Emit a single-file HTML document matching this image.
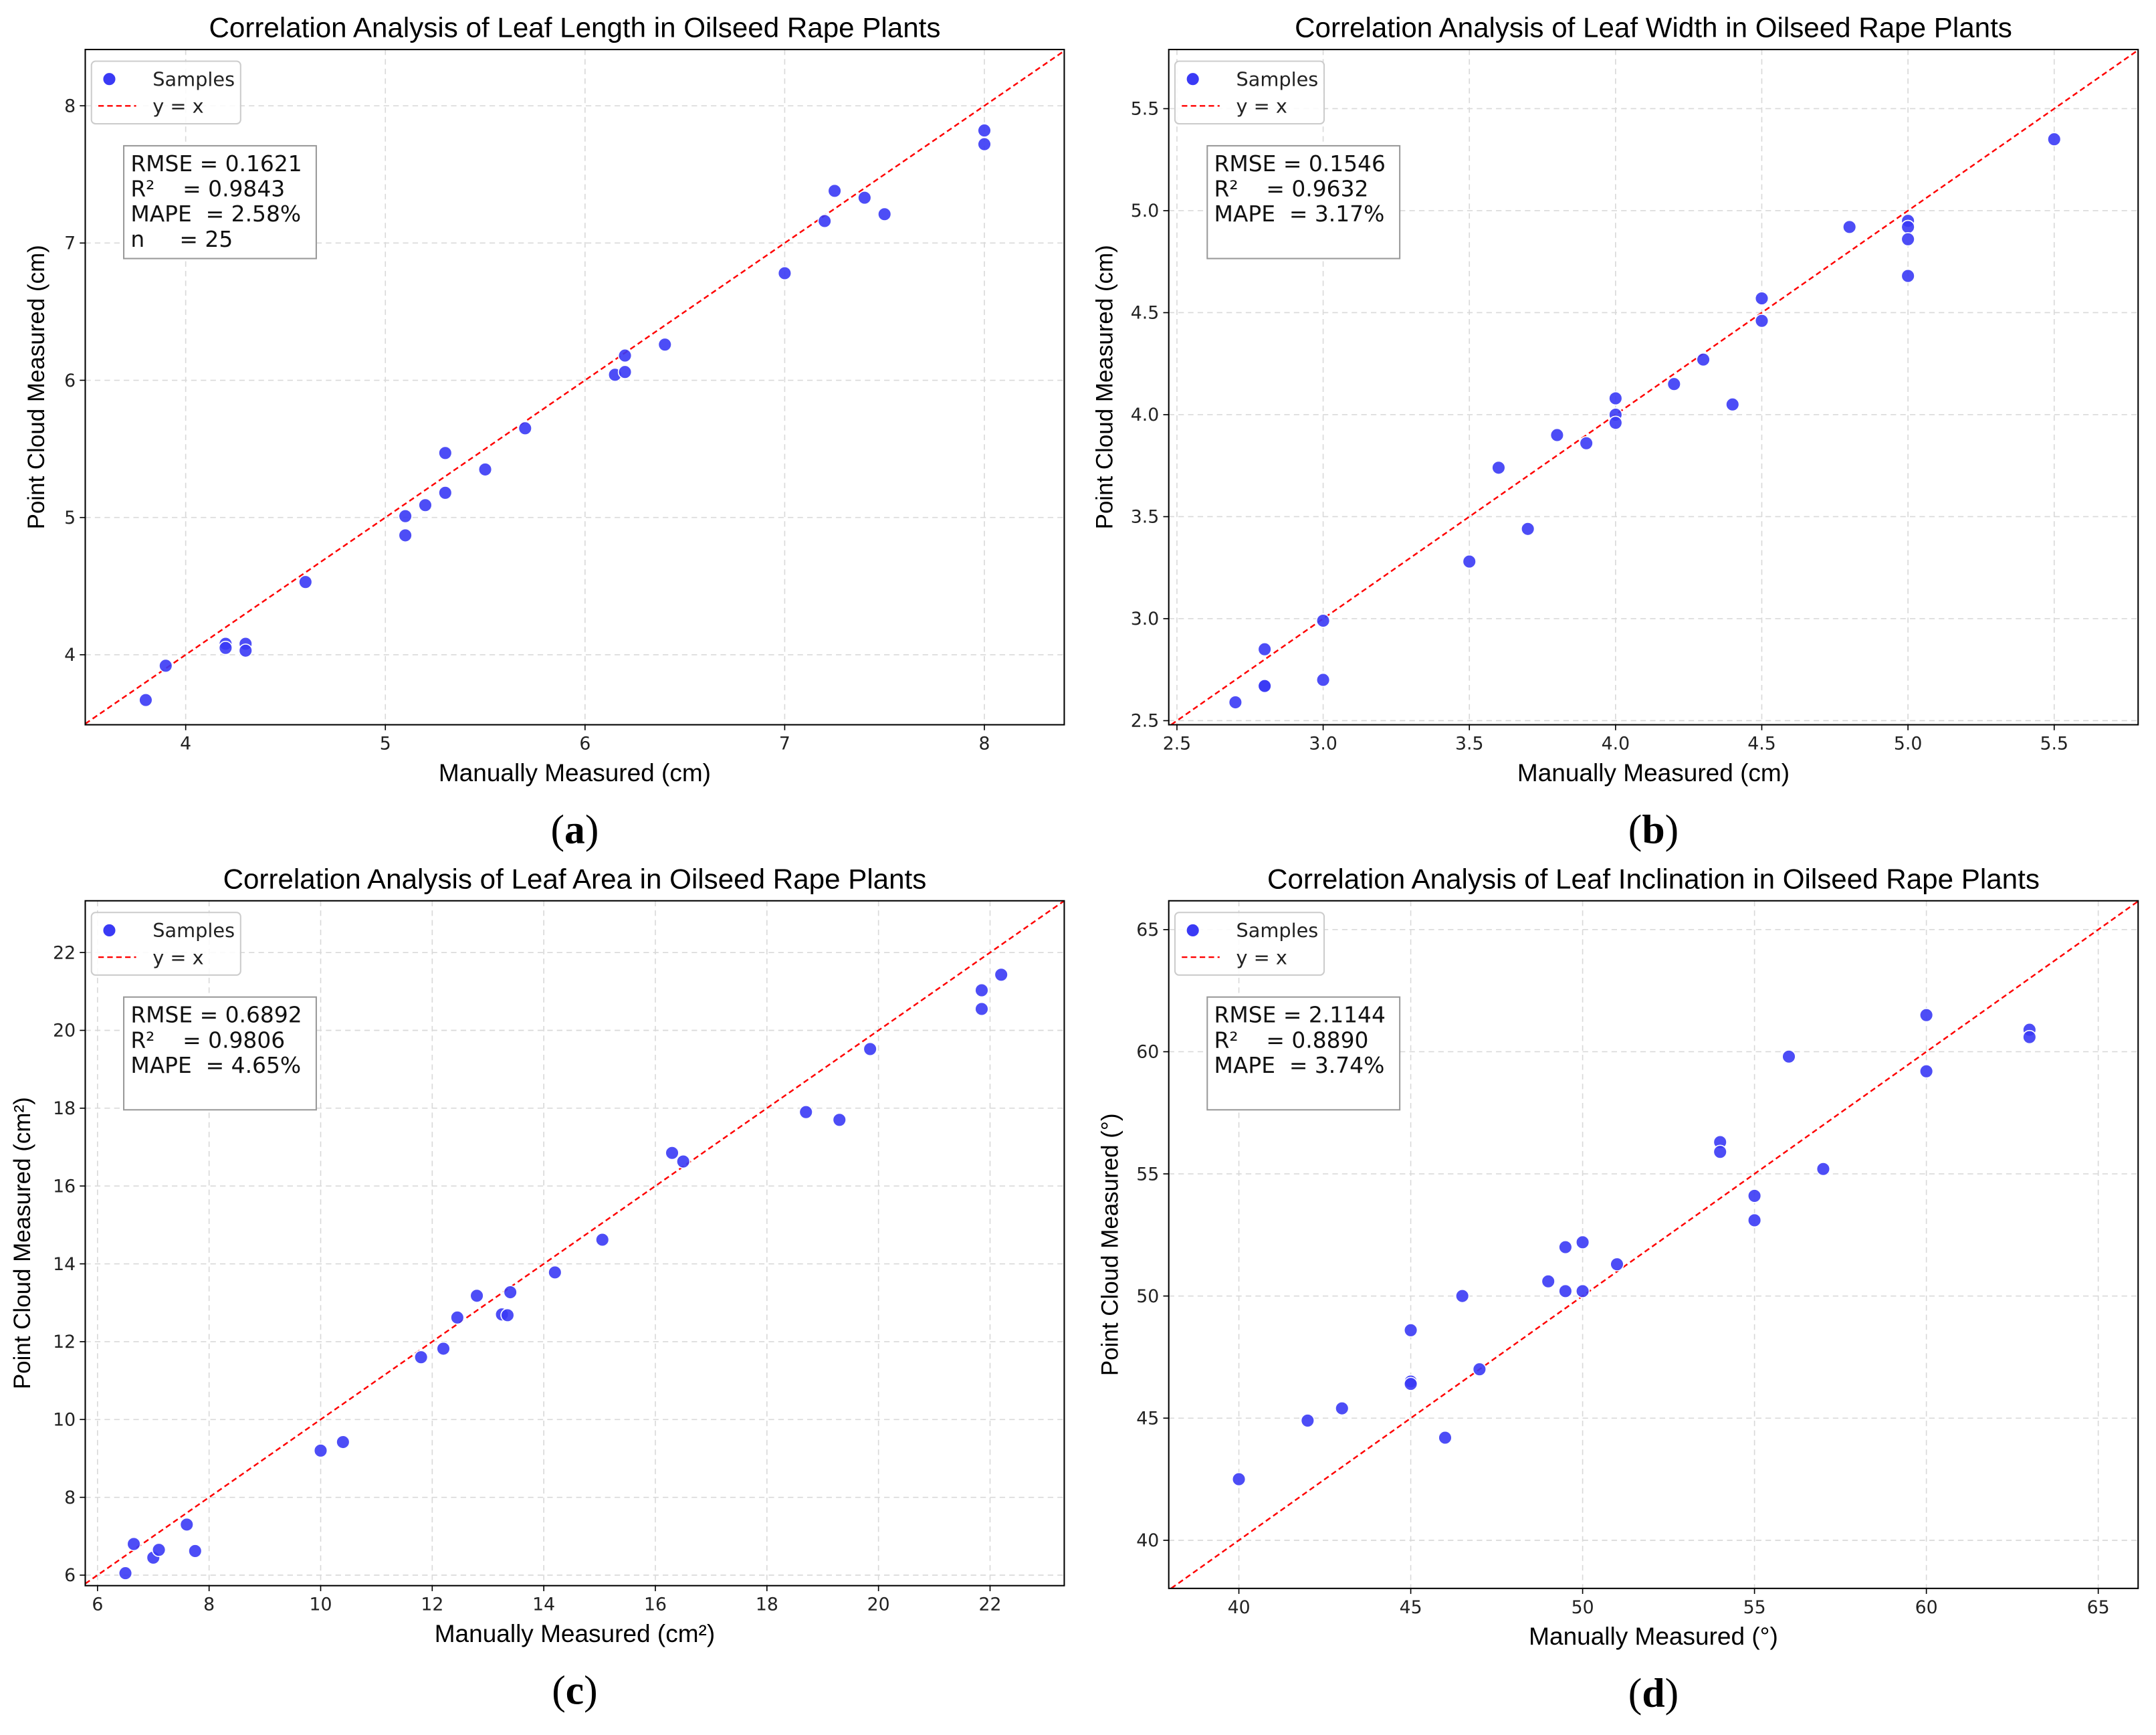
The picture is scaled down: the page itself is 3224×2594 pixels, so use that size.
<!DOCTYPE html>
<html><head><meta charset="utf-8"><style>
html,body{margin:0;padding:0;background:#fff;}
svg{display:block;font-family:"Liberation Sans",sans-serif;}
</style></head><body>
<svg id="fig" width="3224" height="2594" viewBox="0 0 1568 1261.6" xmlns="http://www.w3.org/2000/svg"></svg>
<script>
// Panel (a) leaf length
const lenX=[3.8,3.9,4.2,4.2,4.3,4.3,4.6,5.1,5.1,5.2,5.3,5.3,5.5,5.7,6.15,6.2,6.2,6.4,7.0,7.2,7.25,7.4,7.5,8.0,8.0];
const lenY=[3.67,3.92,4.08,4.05,4.08,4.03,4.53,5.01,4.87,5.09,5.47,5.18,5.35,5.65,6.04,6.06,6.18,6.26,6.78,7.16,7.38,7.33,7.21,7.82,7.72];
const lenXTicks=[4,5,6,7,8];const lenYTicks=[4,5,6,7,8];
// Panel (b) leaf width
const widX=[2.7,2.8,2.8,2.8,3.0,3.0,3.5,3.6,3.7,3.8,3.9,4.0,4.0,4.0,4.2,4.3,4.4,4.5,4.5,4.8,5.0,5.0,5.0,5.0,5.5];
const widY=[2.59,2.85,2.67,2.67,2.99,2.70,3.28,3.74,3.44,3.90,3.86,4.08,4.00,3.96,4.15,4.27,4.05,4.57,4.46,4.92,4.95,4.92,4.86,4.68,5.35];
const widXTicks=[2.5,3.0,3.5,4.0,4.5,5.0,5.5];const widYTicks=[2.5,3.0,3.5,4.0,4.5,5.0,5.5];
// Panel (c) leaf area
const areaX=[6.5,6.65,7.0,7.1,7.6,7.75,10.0,10.4,11.8,12.2,12.45,12.8,13.25,13.35,13.4,14.2,15.05,16.3,16.5,18.7,19.3,19.85,21.85,21.85,22.2];
const areaY=[6.05,6.8,6.45,6.65,7.3,6.62,9.2,9.42,11.6,11.82,12.62,13.18,12.7,12.68,13.27,13.78,14.62,16.85,16.63,17.9,17.7,19.52,21.03,20.55,21.43];
const areaXTicks=[6,8,10,12,14,16,18,20,22];const areaYTicks=[6,8,10,12,14,16,18,20,22];
// Panel (d) leaf inclination
const incX=[40,42,43,45,45,45,46,46.5,47,49,49.5,49.5,50,50,51,54,54,55,55,56,57,60,60,63,63];
const incY=[42.5,44.9,45.4,48.6,46.5,46.4,44.2,50.0,47.0,50.6,52.0,50.2,52.2,50.2,51.3,56.3,55.9,54.1,53.1,59.8,55.2,61.5,59.2,60.9,60.6];
const incXTicks=[40,45,50,55,60,65];const incYTicks=[40,45,50,55,60,65];

const NS="http://www.w3.org/2000/svg";
const svg=document.getElementById('fig');
function mk(tag,attrs,parent,text){const e=document.createElementNS(NS,tag);for(const k in attrs)e.setAttribute(k,attrs[k]);if(text!==undefined)e.textContent=text;(parent||svg).appendChild(e);return e;}
const TICKF='"DejaVu Sans",sans-serif';

function panel(o){
  const g=mk('g',{});
  
  
  const L=o.box[0],T=o.box[1],R=o.box[2],B=o.box[3];
  const sx=v=>L+(v-o.xr[0])/(o.xr[1]-o.xr[0])*(R-L);
  const sy=v=>B-(v-o.yr[0])/(o.yr[1]-o.yr[0])*(B-T);
  const cp='clip-'+o.name;
  const cdef=mk('clipPath',{id:cp},g);mk('rect',{x:L,y:T,width:R-L,height:B-T},cdef);
  o.xt.forEach(t=>{const x=sx(t);
    const gl=mk('line',{x1:x,x2:x,y1:T,y2:B,stroke:'#d9d9d9','stroke-width':0.8,'stroke-dasharray':'4 3'},g);
    
    
    mk('line',{x1:x,x2:x,y1:B,y2:B+4,stroke:'#000','stroke-width':0.8},g);
    const tl=mk('text',{x:x,y:B+18,'font-size':13,'text-anchor':'middle',fill:'#222','font-family':TICKF},g,o.fmt(t));
    
    });
  o.yt.forEach(t=>{const y=sy(t);
    const gl=mk('line',{x1:L,x2:R,y1:y,y2:y,stroke:'#d9d9d9','stroke-width':0.8,'stroke-dasharray':'4 3'},g);
    
    
    mk('line',{x1:L-4,x2:L,y1:y,y2:y,stroke:'#000','stroke-width':0.8},g);
    const tl=mk('text',{x:L-7,y:y+4.5,'font-size':13,'text-anchor':'end',fill:'#222','font-family':TICKF},g,o.fmt(t));
    
    });
  const lo=Math.max(o.xr[0],o.yr[0]),hi=Math.min(o.xr[1],o.yr[1]);
  const ref=mk('line',{x1:sx(lo),y1:sy(lo),x2:sx(hi),y2:sy(hi),stroke:'#ff0000','stroke-width':1.2,'stroke-dasharray':'4 2.5','clip-path':'url(#'+cp+')'},g);
  
  
  o.xs.forEach((v,i)=>{
    const c=mk('circle',{cx:sx(v),cy:sy(o.ys[i]),r:4.8,fill:'#3a3af5','fill-opacity':0.9,stroke:'#fff','stroke-width':0.8},g);
    
    });
  const fr=mk('rect',{x:L,y:T,width:R-L,height:B-T,fill:'none',stroke:'#000','stroke-width':1},g);
  
  
  const ti=mk('text',{x:(L+R)/2,y:T-9,'font-size':20.5,'text-anchor':'middle',fill:'#000'},g,o.title);
  
  
  const xl=mk('text',{x:(L+R)/2,y:B+41,'font-size':18,'text-anchor':'middle',fill:'#000'},g,o.xlab);
  
  
  const yx=L-o.ylOff;
  const yl=mk('text',{x:yx,y:(T+B)/2,'font-size':17,'text-anchor':'middle',fill:'#000',transform:'rotate(-90 '+yx+' '+(T+B)/2+')'},g,o.ylab);
  
  
  // legend
  const lg=mk('g',{},g);
  
  
  mk('rect',{x:L+4.5,y:T+8.5,width:108.5,height:45.5,rx:3,fill:'#fff','fill-opacity':0.85,stroke:'#ccc','stroke-width':1},lg);
  mk('circle',{cx:L+17.5,cy:T+21.5,r:4.8,fill:'#3a3af5',stroke:'#fff','stroke-width':0.8},lg);
  const l1=mk('text',{x:L+49,y:T+26.5,'font-size':14,fill:'#222','font-family':TICKF},lg,'Samples');
  
  
  mk('line',{x1:L+9.5,x2:L+37,y1:T+41,y2:T+41,stroke:'#ff0000','stroke-width':1.2,'stroke-dasharray':'4 2.5'},lg);
  const l2=mk('text',{x:L+49,y:T+46,'font-size':14,fill:'#222','font-family':TICKF},lg,'y = x');
  
  
  // stats box
  const sb=mk('g',{},g);
  
  
  mk('rect',{x:L+28,y:T+70,width:140,height:82,fill:'#fff',stroke:'#999','stroke-width':1},sb);
  o.stats.forEach((s,i)=>{mk('text',{x:L+33,y:T+88.5+i*18.3,'font-size':16,fill:'#111','font-family':TICKF,style:'white-space:pre'},sb,s);});
  const pl=mk('text',{x:(L+R)/2,y:B+86,'font-size':30,'text-anchor':'middle',fill:'#000','font-family':'"Liberation Serif",serif'},g);
  
  
  mk('tspan',{},pl,'(');mk('tspan',{'font-weight':'bold'},pl,o.letter);mk('tspan',{},pl,')');
}
const f0=v=>String(v), f1=v=>v.toFixed(1);
panel({name:'panel-a-leaf-length',box:[62,36,774,527],xr:[3.497,8.40],yr:[3.49,8.41],xs:lenX,ys:lenY,xt:lenXTicks,yt:lenYTicks,fmt:f0,
 title:'Correlation Analysis of Leaf Length in Oilseed Rape Plants',xlab:'Manually Measured (cm)',ylab:'Point Cloud Measured (cm)',ylOff:30,
 stats:['RMSE = 0.1621','R²    = 0.9843','MAPE  = 2.58%','n     = 25'],letter:'a'});
panel({name:'panel-b-leaf-width',box:[850,36,1555,527],xr:[2.472,5.787],yr:[2.48,5.79],xs:widX,ys:widY,xt:widXTicks,yt:widYTicks,fmt:f1,
 title:'Correlation Analysis of Leaf Width in Oilseed Rape Plants',xlab:'Manually Measured (cm)',ylab:'Point Cloud Measured (cm)',ylOff:41,
 stats:['RMSE = 0.1546','R²    = 0.9632','MAPE  = 3.17%'],letter:'b'});
panel({name:'panel-c-leaf-area',box:[62,655,774,1153],xr:[5.78,23.33],yr:[5.73,23.33],xs:areaX,ys:areaY,xt:areaXTicks,yt:areaYTicks,fmt:f0,
 title:'Correlation Analysis of Leaf Area in Oilseed Rape Plants',xlab:'Manually Measured (cm²)',ylab:'Point Cloud Measured (cm²)',ylOff:40,
 stats:['RMSE = 0.6892','R²    = 0.9806','MAPE  = 4.65%'],letter:'c'});
panel({name:'panel-d-leaf-inclination',box:[850,655,1555,1155],xr:[37.96,66.16],yr:[38.03,66.18],xs:incX,ys:incY,xt:incXTicks,yt:incYTicks,fmt:f0,
 title:'Correlation Analysis of Leaf Inclination in Oilseed Rape Plants',xlab:'Manually Measured (°)',ylab:'Point Cloud Measured (°)',ylOff:37,
 stats:['RMSE = 2.1144','R²    = 0.8890','MAPE  = 3.74%'],letter:'d'});
</script>
</body></html>
